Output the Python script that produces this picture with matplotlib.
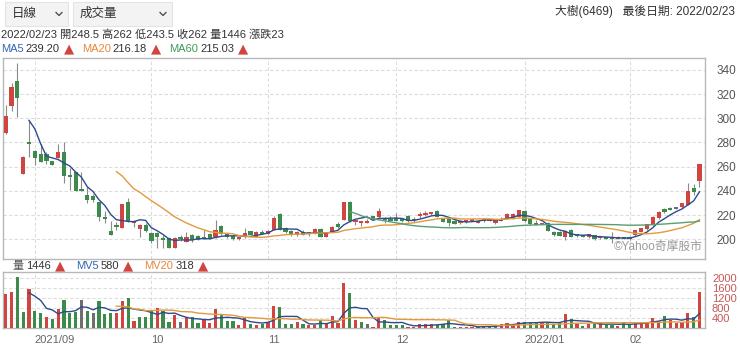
import numpy as np
import pandas as pd
import matplotlib
matplotlib.use("Agg")
import matplotlib.pyplot as plt
from matplotlib.patches import Rectangle
from matplotlib.lines import Line2D

plt.rcParams['font.family'] = ['Liberation Sans', 'Noto Sans CJK TC', 'DejaVu Sans']

# daily candles, 2021/08/25 .. 2022/02/23
opens = [287.7, 310.5, 330.4, 254, 280.2, 273, 270.3, 270.3, 264.8, 267,
         272, 253.2, 255.4, 241.4, 236.7, 236, 231.2, 218.8, 206.7, 211.9,
         209.7, 231.2, 213.5, 208.5, 211.9, 205, 205, 200.9, 201.4, 193.1,
         201.6, 198, 203.6, 202.7, 201.6, 204, 201.6, 211, 204, 202.7,
         199.9, 201.6, 206.8, 201.6, 205.5, 204.4, 207.6, 220.6, 209, 207,
         203.6, 206.3, 205.8, 205.2, 208.2, 202.2, 206.3, 212.6, 216, 231.1,
         214, 213.5, 214, 219, 218.8, 217.9, 216.5, 217.8, 216.5, 219.5,
         216.8, 219.5, 220.2, 221.4, 223.4, 217.3, 217.3, 215.4, 213.7, 215,
         215.4, 213.7, 215, 215.5, 213.2, 215.3, 216.8, 217.3, 218.7, 223.4,
         216.8, 213, 212.5, 213.2, 206.3, 206.3, 201.6, 207.7, 203.8, 203.3,
         201.6, 203.5, 201.2, 201.6, 201.5, 201, 201.5, 202.2, 203.5, 206.3,
         208.2, 212.6, 217.3, 224.7, 225.5, 225.8, 226.4, 228.3, 242.1, 248.5]
highs = [311, 329, 345.5, 268.5, 298.7, 273.5, 278.6, 272.5, 265, 278.6,
         280.2, 258.8, 256, 255.4, 243.6, 237.3, 231.2, 223, 214.7, 214,
         229.5, 234.5, 216, 213, 213.3, 206.4, 206.4, 203.6, 202.2, 202,
         203.6, 206.3, 204, 203.6, 207.6, 205, 216, 212, 204.8, 203.6,
         202.2, 209.7, 207, 206.5, 207.6, 207.6, 219.2, 221.4, 210.4, 207.6,
         206.8, 207.6, 206.3, 209.4, 209, 206.3, 211.1, 214.6, 231.2, 232,
         216.6, 215.5, 216.5, 219.5, 226.2, 218.7, 219.2, 221.4, 217, 220,
         218.7, 222.8, 223.6, 222.8, 223.8, 217.9, 217.5, 216, 215.6, 215.7,
         216.5, 215.8, 217.5, 216.5, 216.5, 218.7, 221.4, 221.5, 224.5, 224,
         217, 215.9, 213.7, 214, 206.5, 206.5, 207.5, 208.2, 204.4, 203.8,
         204.4, 203.8, 203, 202.2, 206.3, 202.7, 202.2, 202.7, 208, 209.7,
         213, 219.2, 223.4, 225.6, 226.5, 227, 230, 246.2, 246, 262]
lows = [287, 305.6, 301.4, 254, 268.4, 261.5, 264, 262.6, 261, 267,
        246.3, 240.8, 240, 239.5, 229.8, 231.2, 214.7, 213.3, 203.6, 208,
        209.5, 214, 210, 202, 206.4, 196.8, 192.6, 192.6, 193, 193,
        198.5, 197.5, 198, 199, 200, 200, 200.8, 203.6, 200.8, 199.4,
        199.4, 200.8, 203.6, 201.6, 204, 204.2, 207.6, 207.6, 205, 202.7,
        202.7, 203.5, 202.7, 204.4, 201.6, 201.6, 205.8, 209.4, 216, 214.6,
        212, 211, 213.5, 216.5, 217.9, 213.2, 215.4, 215, 214, 214.6,
        214.6, 217.3, 218.9, 220, 218.5, 214, 211, 212.6, 213, 213.5,
        215, 213.5, 214.5, 215, 213, 215, 216.5, 217, 218, 214.6,
        212, 211.8, 211.5, 206.5, 203, 202.5, 199.4, 201.6, 202.2, 201.8,
        201, 199.4, 200.5, 200.5, 197.2, 200.5, 200, 199.6, 203, 205.8,
        207.7, 212, 216.8, 222, 224, 225, 226, 228, 236.6, 243.5]
closes = [302, 325.7, 316.6, 268.4, 278.6, 267, 264.2, 264.8, 261.5, 272,
          252.7, 251.6, 240, 240, 232.6, 232.6, 218, 216.6, 203.6, 209.8,
          229.2, 214.7, 215.2, 211.9, 207, 198.7, 202.2, 200, 193.1, 201,
          201, 202.2, 199.5, 199.2, 200.5, 200.8, 207.6, 204, 201.6, 200,
          201.6, 204.8, 203.6, 206.3, 204.4, 206.8, 217.8, 207.6, 206.3, 203.6,
          206.3, 203.8, 204.2, 208.8, 202.2, 205.8, 210, 210.5, 231, 215.4,
          216, 215, 215, 216.8, 223.5, 216, 215.8, 215.5, 215.2, 215.4,
          216, 220.9, 221.8, 222.4, 218.7, 214.6, 213.2, 212.6, 215.4, 215.6,
          216, 215.4, 217, 216, 216, 216.5, 220.9, 221.2, 224.2, 215.4,
          212.6, 212.4, 212.9, 206.8, 203.5, 202.7, 206.8, 202.2, 202.7, 202.2,
          204.1, 200, 201.9, 201, 200.8, 201.6, 200.8, 200, 207.7, 209,
          212.6, 218.7, 222.8, 222.3, 224.6, 225.8, 229.7, 239.5, 239, 262]
volumes = [1346, 1440, 2053, 653, 1546, 680, 587, 453, 347, 773,
           1106, 587, 653, 1106, 680, 613, 1080, 547, 613, 613,
           1080, 1186, 280, 453, 453, 720, 813, 680, 253, 507,
           253, 440, 440, 187, 373, 213, 773, 507, 280, 280,
           120, 440, 147, 120, 173, 253, 880, 840, 173, 173,
           240, 147, 107, 120, 307, 173, 480, 187, 1786, 1386,
           307, 240, 147, 53, 453, 320, 120, 120, 107, 40,
           53, 147, 147, 173, 107, 173, 307, 40, 40, 53,
           40, 60, 80, 60, 110, 150, 200, 170, 230, 250,
           200, 220, 250, 240, 180, 190, 550, 380, 170, 100,
           150, 180, 200, 120, 140, 90, 230, 150, 200, 220,
           230, 420, 300, 500, 330, 210, 230, 590, 424, 1446]

# first trading day of each month (bar index) and its label
tick_pos = [5, 25, 45, 67, 89, 107]
tick_labels = ['2021/09', '10', '11', '12', '2022/01', '02']
price_ticks = [200, 220, 240, 260, 280, 300, 320, 340]
vol_ticks = [400, 800, 1200, 1600, 2000]

RED, GREEN, GRAY = '#d0453f', '#3d8b4c', '#6e6e6e'
C_MA5, C_MA20, C_MA60 = '#2d4b8e', '#e39a3b', '#5a9e70'
TXT = '#333333'

W, H = 740, 353
fig = plt.figure(figsize=(W / 100, H / 100), dpi=100)
renderer = fig.canvas.get_renderer()


def box(l, t, r, b):
    return [l / W, 1 - b / H, (r - l) / W, (b - t) / H]


def ftext(x, y, s, **kw):
    kw.setdefault('va', 'center')
    kw.setdefault('fontsize', 8)
    return fig.text(x / W, 1 - y / H, s, **kw)


def text_row(x, y, parts):
    # lay pieces out left to right, each (text, colour, gap before next)
    for s, color, gap in parts:
        if s == '▲':
            t = ftext(x, y, s, color=color, fontsize=9.5, family='DejaVu Sans')
        else:
            t = ftext(x, y, s, color=color, fontsize=8)
        x = t.get_window_extent(renderer).x1 + gap


o, hi, lo, c = (np.array(a, dtype=float) for a in (opens, highs, lows, closes))
v = np.array(volumes, dtype=float)
x = np.arange(len(c))

ax = fig.add_axes(box(3, 58, 705, 259))
axv = fig.add_axes(box(3, 272, 705, 328))

# candles
col = np.where(c > o, RED, np.where(c < o, GREEN, GRAY))
ax.vlines(x, lo, hi, color='#8a8a8a', lw=0.8, zorder=2)
bh = np.maximum(np.abs(c - o), 1.4)
ax.bar(x, bh, 0.72, bottom=(o + c) / 2 - bh / 2, color=col, zorder=3)

s = pd.Series(c)
ax.plot(x, s.rolling(5).mean(), color=C_MA5, lw=1.0, zorder=4)
ax.plot(x, s.rolling(20).mean(), color=C_MA20, lw=1.0, zorder=4)
ax.plot(x, s.rolling(60).mean(), color=C_MA60, lw=1.0, zorder=4)

# volume, coloured against previous close
prev = np.r_[-np.inf, c[:-1]]
vcol = np.where(c > prev, RED, np.where(c < prev, GREEN, GRAY))
axv.bar(x, v, 0.55, color=vcol, zorder=3)
sv = pd.Series(v)
axv.plot(x, sv.rolling(5).mean(), color=C_MA5, lw=1.0, zorder=4)
axv.plot(x, sv.rolling(20).mean(), color=C_MA20, lw=1.0, zorder=4)

for a in (ax, axv):
    a.set_xlim(-0.46, 119.95)
    a.set_xticks(tick_pos)
    a.grid(True, color='#dcdcdc', lw=0.8, ls=(0, (3, 2)), zorder=0)
    a.set_axisbelow(True)
    a.yaxis.tick_right()
    a.tick_params(length=0)
    for sp in a.spines.values():
        sp.set_color('#b8b8b8')
        sp.set_linewidth(1.0)

ax.set_ylim(183.7, 349.8)
ax.set_yticks(price_ticks)
ax.tick_params(axis='y', labelsize=8.5, labelcolor='#555555', pad=8)
ax.set_xticklabels([])

axv.set_ylim(0, 2240)
axv.set_yticks(vol_ticks)
axv.tick_params(axis='y', labelsize=8, labelcolor='#c25a5a', pad=5)
axv.set_xticklabels(tick_labels, ha='left')
axv.tick_params(axis='x', labelsize=8, labelcolor='#666666', pad=5)

ax.text(0.997, 0.03, '©Yahoo奇摩股市', transform=ax.transAxes, ha='right',
        va='bottom', fontsize=8.5, color='#9a9a9a')

# dropdowns
for l, r, label, chev in [(5, 68, '日線', 59), (73, 172, '成交量', 163)]:
    fig.add_artist(Rectangle((l / W, 1 - 26 / H), (r - l) / W, 24 / H,
                             transform=fig.transFigure, facecolor='#f3f3f3',
                             edgecolor='#e4e4e4', lw=0.8))
    ftext(l + 7, 14, label, fontsize=9, color=TXT)
    fig.add_artist(Line2D([(chev - 3) / W, chev / W, (chev + 3) / W],
                          [1 - 12.5 / H, 1 - 15.5 / H, 1 - 12.5 / H],
                          transform=fig.transFigure, color='#444444', lw=0.9))

ftext(735, 11, '大樹(6469)   最後日期: 2022/02/23', ha='right', color=TXT,
      fontsize=8.5)
ftext(1, 35, '2022/02/23 開248.5 高262 低243.5 收262 量1446 漲跌23', color=TXT)

text_row(1, 49, [('MA5', '#3465b0', 2), ('239.20', TXT, 4), ('▲', RED, 8),
                 ('MA20', '#e8873a', 2), ('216.18', TXT, 4), ('▲', RED, 8),
                 ('MA60', '#3f9a5b', 2), ('215.03', TXT, 4), ('▲', RED, 0)])

text_row(12, 266, [('量', '#555555', 3), ('1446', TXT, 4), ('▲', RED, 11),
                   ('MV5', '#3465b0', 2), ('580', TXT, 4), ('▲', RED, 11),
                   ('MV20', '#e8873a', 2), ('318', TXT, 4), ('▲', RED, 0)])

fig.savefig('out.png', dpi=100)
